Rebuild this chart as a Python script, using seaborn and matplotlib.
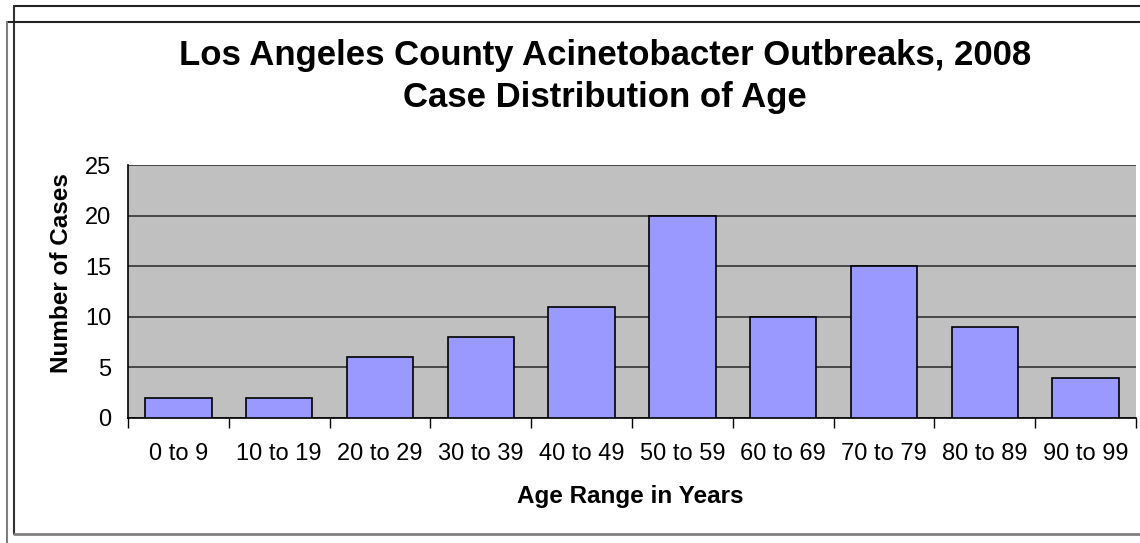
import matplotlib
matplotlib.use('Agg')
import matplotlib.pyplot as plt
import seaborn as sns
import pandas as pd
from matplotlib.lines import Line2D

# Datos
rangos_edad = ['0 to 9', '10 to 19', '20 to 29', '30 to 39', '40 to 49',
               '50 to 59', '60 to 69', '70 to 79', '80 to 89', '90 to 99']
casos = [2, 2, 6, 8, 11, 20, 10, 15, 9, 4]
ticks_y = [0, 5, 10, 15, 20, 25]

df = pd.DataFrame({'rango': rangos_edad, 'casos': casos})

sns.set_theme(style='white')
plt.rcParams['font.family'] = ['Liberation Sans', 'DejaVu Sans']
plt.rcParams['text.color'] = 'black'
plt.rcParams['axes.labelcolor'] = 'black'
plt.rcParams['xtick.color'] = 'black'
plt.rcParams['ytick.color'] = 'black'

W, H = 1140, 543
fig = plt.figure(figsize=(W / 100, H / 100), dpi=100)
ax = fig.add_axes([128 / W, 1 - 418 / H, (1136 - 128) / W, (418 - 165) / H])

sns.barplot(data=df, x='rango', y='casos', color='#9999FF', saturation=1,
            edgecolor='black', linewidth=1.2, width=0.66, ax=ax, zorder=3)

ax.set_facecolor('#C0C0C0')
ax.set_xlim(-0.5, len(rangos_edad) - 0.5)
ax.set_ylim(0, 25)
ax.set_yticks(ticks_y)
ax.yaxis.grid(True, color='#333333', linewidth=1.2, zorder=0)
ax.set_axisbelow(True)

for lado in ['top', 'right']:
    ax.spines[lado].set_visible(False)
ax.spines['left'].set_color('black')
ax.spines['bottom'].set_color('black')
ax.spines['left'].set_linewidth(1.2)
ax.spines['bottom'].set_linewidth(1.2)

# ticks en los límites de categoría
ax.set_xticks([i - 0.5 for i in range(len(rangos_edad) + 1)], minor=True)
ax.set_xticks(range(len(rangos_edad)))
ax.set_xticklabels(rangos_edad, fontsize=17)
ax.tick_params(axis='x', which='major', length=0, pad=26)
ax.tick_params(axis='x', which='minor', length=7, width=1, color='black', direction='out')
ax.tick_params(axis='y', length=8, width=1, color='black', direction='out', labelsize=17, pad=4)
ax.xaxis.set_tick_params(bottom=True, which='minor')
for t in ax.get_xticklabels():
    t.set_verticalalignment('center')

ax.set_xlabel('Age Range in Years', fontsize=17.5, fontweight='bold')
ax.set_ylabel('Number of Cases', fontsize=17.5, fontweight='bold')
ax.xaxis.set_label_coords(0.4985, (418 - 485) / 253)
ax.yaxis.set_label_coords((73 - 128) / 1008, (418 - 273) / 253)

fig.text(605 / W, 1 - 55 / H, 'Los Angeles County Acinetobacter Outbreaks, 2008',
         ha='center', va='center', fontsize=25, fontweight='bold')
fig.text(605 / W, 1 - 97 / H, 'Case Distribution of Age',
         ha='center', va='center', fontsize=25, fontweight='bold')

# marcos del gráfico
def linea(x0, y0, x1, y1, color, lw=1.5):
    fig.add_artist(Line2D([x0 / W, x1 / W], [1 - y0 / H, 1 - y1 / H],
                          color=color, linewidth=lw, transform=fig.transFigure))

linea(14, 6, W, 6, '#222222')
linea(14, 6, 14, 534, '#333333')
linea(7, 22, W, 22, '#222222')
linea(7, 22, 7, H, '#808080')
linea(14, 534, W, 534, '#808080', 2)

fig.savefig('out.png', dpi=100)
